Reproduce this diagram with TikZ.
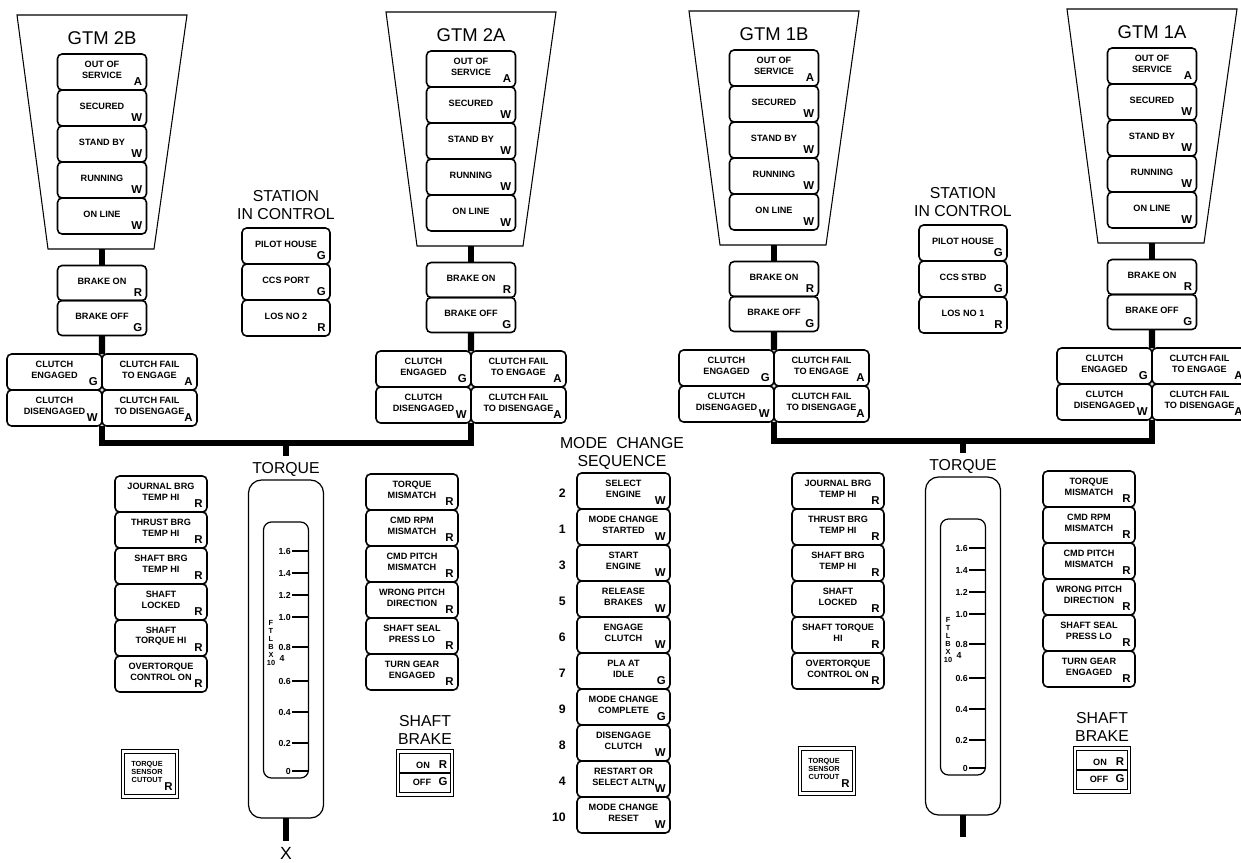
\documentclass[tikz,border=0pt]{standalone}
\usepackage{fontspec}
\setmainfont{Liberation Sans}
\usetikzlibrary{positioning,calc}
\tikzset{
  lampbox/.style 2 args={draw,line width=0.9pt,rounded corners=2.6pt,outer sep=0pt,
    minimum width=#1*0.2mm,minimum height=#2*0.2mm,inner sep=0pt},
  lamptext/.style={font=\fontsize{5.2}{6}\selectfont\bfseries,align=center,inner sep=0pt},
  lampcode/.style={font=\fontsize{6.5}{6.5}\selectfont\bfseries,inner sep=0pt},
  title/.style={font=\fontsize{9}{10.2}\selectfont,align=center,inner sep=1pt},
  bezel/.style={draw,line width=0.6pt},
  gauge/.style 2 args={draw,line width=0.7pt,outer sep=0pt,minimum width=#1*0.2mm,minimum height=#2*0.2mm},
  frame/.style 2 args={draw,double,double distance=1.2pt,line width=0.6pt,
    minimum width=#1*0.2mm,minimum height=#2*0.2mm,inner sep=0pt},
  bus/.style={line width=3.5pt},
  tick/.style={line width=0.6pt},
  scaletext/.style={font=\fontsize{5}{5}\selectfont\bfseries,inner sep=0.5pt},
  % indicator lamp: width, height, text, colour code
  pics/lamp/.style n args={4}{code={
    \node[lampbox={#1}{#2}] (-box) at (0,0) {};
    \node[lamptext] (-text) at (0,-2) {#3};
    \node[lampcode,anchor=south east] (-code) at ({#1/2-4},{#2/2-4}) {#4};
  }},
}

\begin{document}
\begin{tikzpicture}[x=0.2mm,y=-0.2mm]
  \useasboundingbox (0,0) rectangle (1241,862);
  % engine panels
  \foreach \cx/\dy/\g in {102/3/2B,471/0/2A,774/-1/1B,1152/-3/1A}{
    \draw[bezel] (\cx-85,12+\dy) -- (\cx+85,12+\dy) -- (\cx+52,246+\dy) -- (\cx-54,246+\dy) -- cycle;
    \coordinate (\g-foot) at (\cx,246+\dy);
    \node[font=\fontsize{10.5}{12}\selectfont] (\g-name) at (\cx,35+\dy) {GTM \g};
    \foreach \t/\c [count=\i] in {{OUT OF\\SERVICE}/A,SECURED/W,STAND BY/W,RUNNING/W,ON LINE/W}
      \pic (\g-st\i) at (\cx,{51+\dy+36*\i-18}) {lamp={89}{36}{\t}{\c}};
    \pic (\g-br1) at (\cx,280+\dy) {lamp={89}{35}{BRAKE ON}{R}};
    \pic (\g-br2) at (\cx,315+\dy) {lamp={89}{35}{BRAKE OFF}{G}};
    \pic (\g-cl1) at (\cx-47.5,369+\dy) {lamp={95}{36}{CLUTCH\\ENGAGED}{G}};
    \pic (\g-cl2) at (\cx+47.5,369+\dy) {lamp={95}{36}{CLUTCH FAIL\\TO ENGAGE}{A}};
    \pic (\g-cl3) at (\cx-47.5,405+\dy) {lamp={95}{36}{CLUTCH\\DISENGAGED}{W}};
    \pic (\g-cl4) at (\cx+47.5,405+\dy) {lamp={95}{36}{CLUTCH FAIL\\TO DISENGAGE}{A}};
    \draw[bus] (\g-foot) -- (\g-br1-box.north);
    \draw[bus] (\g-br2-box.south) -- (\g-cl1-box.north east);
  }
  \coordinate (busL) at (286,443);
  \coordinate (busR) at (963,441);
  \draw[bus] (2B-cl3-box.south east) |- (busL) -| (2A-cl3-box.south east);
  \draw[bus] (1B-cl3-box.south east) |- (busR) -| (1A-cl3-box.south east);
  % shaft halves
  \foreach \cx/\dy/\h/\fifth/\ccs/\los in {286/0/L/{SHAFT\\TORQUE HI}/CCS PORT/LOS NO 2,
      963/-3/R/{SHAFT TORQUE\\HI}/CCS STBD/LOS NO 1}{
    \node[title] (\h-sic) at (\cx,205+\dy) {STATION\\IN CONTROL};
    \foreach \t/\c [count=\i] in {PILOT HOUSE/G,\ccs/G,\los/R}
      \pic (\h-sc\i) at (\cx,{228+\dy+36*\i-18}) {lamp={88}{36}{\t}{\c}};
    \node[title,inner sep=3pt] (\h-tq) at (\cx,469+\dy) {TORQUE};
    \draw[bus] (bus\h) -- (\h-tq.north);
    \node[gauge={75}{338},rounded corners=2.6mm] (\h-g) at (\cx,649+\dy) {};
    \node[gauge={45}{256},rounded corners=1.6mm] (\h-gi) at (\cx,650+\dy) {};
    \foreach \v/\o in {1.6/29,1.4/51,1.2/73,1.0/95,0.8/125,0.6/159,0.4/190,0.2/221,0/249}{
      \node[scaletext,anchor=east] (\h-v\o) at (\cx+6,522+\dy+\o) {\v};
      \draw[tick] (\h-v\o.east) -- (\cx+22,522+\dy+\o);
    }
    \node[scaletext,font=\fontsize{4.2}{4.6}\selectfont\bfseries,align=center] (\h-unit) at (\cx-15,643+\dy) {F\\T\\L\\B\\X\\10};
    \node[scaletext] (\h-exp) at (\cx-4,658+\dy) {4};
    \foreach \t [count=\i] in {{JOURNAL BRG\\TEMP HI},{THRUST BRG\\TEMP HI},{SHAFT BRG\\TEMP HI},
        {SHAFT\\LOCKED},\fifth,{OVERTORQUE\\CONTROL ON}}
      \pic (\h-al\i) at (\cx-125,{476+\dy+36*\i-18}) {lamp={92}{36}{\t}{R}};
    \foreach \t [count=\i] in {{TORQUE\\MISMATCH},{CMD RPM\\MISMATCH},{CMD PITCH\\MISMATCH},
        {WRONG PITCH\\DIRECTION},{SHAFT SEAL\\PRESS LO},{TURN GEAR\\ENGAGED}}
      \pic (\h-ar\i) at (\cx+126,{474+\dy+36*\i-18}) {lamp={92}{36}{\t}{R}};
    \node[frame={54}{45}] (\h-ts) at (\cx-136,774+\dy) {};
    \node[lamptext,font=\fontsize{4.2}{4.8}\selectfont\bfseries] (\h-tst) at (\cx-139,772+\dy) {TORQUE\\SENSOR\\CUTOUT};
    \node[lampcode,anchor=south east] (\h-tsc) at (\cx-113,791+\dy) {R};
    \node[title] (\h-sbt) at (\cx+139,730+\dy) {SHAFT\\BRAKE};
    \node[frame={54}{43}] (\h-sb) at (\cx+139,773+\dy) {};
    \draw[tick] ([xshift=1.5pt]\h-sb.west) -- ([xshift=-1.5pt]\h-sb.east);
    \node[lamptext] (\h-on) at (\cx+137,765+\dy) {ON};
    \node[lampcode] (\h-onc) at (\cx+157,765+\dy) {R};
    \node[lamptext] (\h-off) at (\cx+136,782+\dy) {OFF};
    \node[lampcode] (\h-offc) at (\cx+157,782+\dy) {G};
  }
  \node[font=\fontsize{10}{10}\selectfont,inner sep=3pt] (xL) at (286,853) {X};
  \draw[bus] (L-g.south) -- (xL.north);
  \coordinate (stR) at (963,837);
  \draw[bus] (R-g.south) -- (stR);
  % mode change sequence
  \node[title] (mcs) at (622,453) {MODE\ \ CHANGE\\SEQUENCE};
  \foreach \n/\t/\c [count=\i] in {2/{SELECT\\ENGINE}/W,1/{MODE CHANGE\\STARTED}/W,3/{START\\ENGINE}/W,
      5/{RELEASE\\BRAKES}/W,6/{ENGAGE\\CLUTCH}/W,7/{PLA AT\\IDLE}/G,9/{MODE CHANGE\\COMPLETE}/G,
      8/{DISENGAGE\\CLUTCH}/W,4/{RESTART OR\\SELECT ALTN}/W,10/{MODE CHANGE\\RESET}/W}{
    \pic (mc\i) at (623.5,{473+36*\i-18}) {lamp={93}{36}{\t}{\c}};
    \node[font=\fontsize{7}{7}\selectfont\bfseries,anchor=east] (mcn\i) at (572,{473+36*\i-16}) {\n};
  }
\end{tikzpicture}
\end{document}
